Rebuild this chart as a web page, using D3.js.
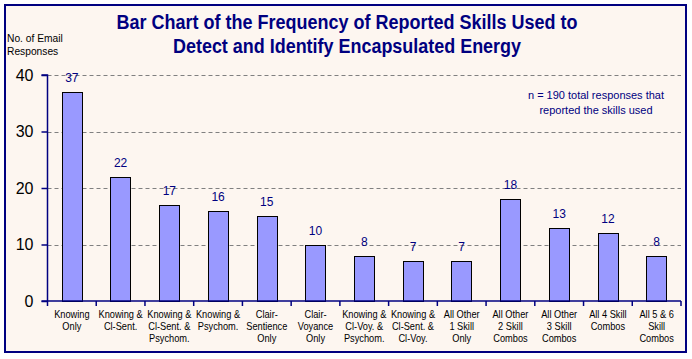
<!DOCTYPE html>
<html><head><meta charset="utf-8">
<script src="https://cdn.jsdelivr.net/npm/d3@7"></script>
<style>body{margin:0;background:#fff}svg{display:block}</style>
</head><body>
<script>
const categories = [
  ["Knowing","Only"],
  ["Knowing &","Cl-Sent."],
  ["Knowing &","Cl-Sent. &","Psychom."],
  ["Knowing &","Psychom."],
  ["Clair-","Sentience","Only"],
  ["Clair-","Voyance","Only"],
  ["Knowing &","Cl-Voy. &","Psychom."],
  ["Knowing &","Cl-Sent. &","Cl-Voy."],
  ["All Other","1 Skill","Only"],
  ["All Other","2 Skill","Combos"],
  ["All Other","3 Skill","Combos"],
  ["All 4 Skill","Combos"],
  ["All 5 & 6","Skill","Combos"]
];
const values = [37,22,17,16,15,10,8,7,7,18,13,12,8];
const yTicks = [0,10,20,30,40];
const titleLines = ["Bar Chart of the Frequency of Reported Skills Used to","Detect and Identify Encapsulated Energy"];
const yTitle = ["No. of Email","Responses"];
const note = ["n = 190 total responses that","reported the skills used"];

const W=692,H=359;
const svg=d3.select("body").append("svg").attr("width",W).attr("height",H);
const font="Liberation Sans, Arial, sans-serif";
const navy="#000080";

function squeeze(sel,f){
  sel.each(function(){
    const n=this.getComputedTextLength();
    d3.select(this).attr("textLength",n*f).attr("lengthAdjust","spacingAndGlyphs");
  });
}

svg.append("rect").attr("x",5).attr("y",5).attr("width",681).attr("height",347)
  .attr("fill","#FDF6F0").attr("stroke",navy).attr("stroke-width",2);

const x0=47.5,x1=681,yTop=75,yBot=301;
const x=d3.scaleBand().domain(d3.range(categories.length)).range([x0,x1]);
const y=d3.scaleLinear().domain([0,40]).range([yBot,yTop]);

// gridlines
svg.append("g").selectAll("line").data(yTicks.filter(d=>d>0)).join("line")
  .attr("x1",x0).attr("x2",x1).attr("y1",d=>Math.round(y(d))+0.5).attr("y2",d=>Math.round(y(d))+0.5)
  .attr("stroke","#808080").attr("stroke-dasharray","4,3");

// bars
const bw=x.bandwidth()*0.42;
svg.append("g").selectAll("rect").data(values).join("rect")
  .attr("x",(d,i)=>Math.round(x(i)+x.bandwidth()/2-bw/2)+0.5)
  .attr("y",d=>Math.round(y(d))+0.5)
  .attr("width",Math.round(bw))
  .attr("height",d=>Math.round(yBot)-Math.round(y(d)))
  .attr("fill","#9999FF").attr("stroke","#000").attr("stroke-width",1);

// value labels
svg.append("g").selectAll("text").data(values).join("text")
  .attr("x",(d,i)=>x(i)+x.bandwidth()/2)
  .attr("y",d=>y(d)-10)
  .attr("text-anchor","middle").attr("font-family",font).attr("font-size",12)
  .attr("fill",navy).text(d=>d);

// y axis
const yAxis=d3.axisLeft(y).tickValues(yTicks).tickSize(6).tickPadding(8);
const ga=svg.append("g").attr("transform",`translate(${x0},0)`).call(yAxis);
ga.select(".domain").attr("stroke",navy).attr("stroke-width",1.5).attr("d",`M-6,${yTop}H0V${yBot}`);
ga.selectAll(".tick line").attr("stroke",navy).attr("stroke-width",1.5);
ga.selectAll(".tick text").attr("font-family",font).attr("font-size",16).attr("fill","#000");

// x axis
const xb=svg.append("g");
xb.append("line").attr("x1",x0-6).attr("x2",x1).attr("y1",yBot).attr("y2",yBot).attr("stroke",navy).attr("stroke-width",1.5);
xb.selectAll("line.t").data(d3.range(categories.length+1)).join("line").attr("class","t")
  .attr("x1",i=>x0+i*x.step()).attr("x2",i=>x0+i*x.step())
  .attr("y1",yBot).attr("y2",yBot+5).attr("stroke",navy).attr("stroke-width",1.5);
categories.forEach((d,i)=>{
  d.forEach((s,j)=>xb.append("text").attr("class","xl").attr("text-anchor","middle")
    .attr("font-family",font).attr("font-size",11).attr("fill","#000")
    .attr("x",x(i)+x.bandwidth()/2).attr("y",318+j*12).text(s));
});
squeeze(xb.selectAll("text.xl"),0.84);

// title
svg.append("g").selectAll("text").data(titleLines).join("text")
  .attr("x",347).attr("y",(d,i)=>29+i*24).attr("text-anchor","middle")
  .attr("font-family",font).attr("font-weight","bold").attr("font-size",20).attr("fill",navy).text(d=>d)
  .attr("textLength",(d,i)=>[461,348][i]).attr("lengthAdjust","spacingAndGlyphs");

const yt=svg.append("g").selectAll("text").data(yTitle).join("text")
  .attr("x",7).attr("y",(d,i)=>42+i*13).attr("font-family",font).attr("font-size",11).attr("fill","#000").text(d=>d);
squeeze(yt,0.93);

svg.append("g").selectAll("text").data(note).join("text")
  .attr("x",596).attr("y",(d,i)=>99+i*15).attr("text-anchor","middle")
  .attr("font-family",font).attr("font-size",11).attr("fill",navy).text(d=>d);
</script>
</body></html>
